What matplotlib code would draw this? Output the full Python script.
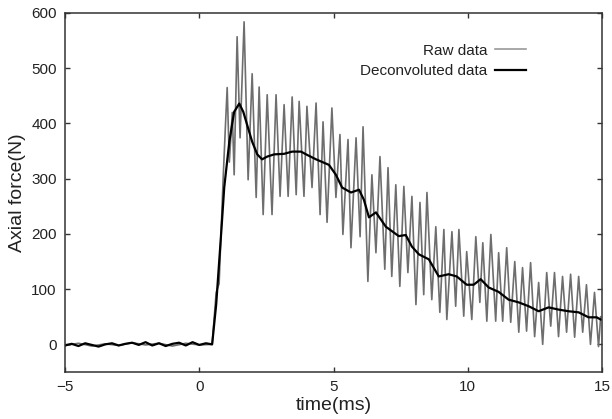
import matplotlib
matplotlib.use("Agg")
import matplotlib.pyplot as plt

plt.rcParams['font.family'] = ['Liberation Sans', 'DejaVu Sans']

# raw signal: alternating peaks / troughs (time in ms, force in N)
raw_t = [-5.0, -4.5, -4.0, -3.5, -3.0, -2.5, -2.0, -1.5, -1.0, -0.5, 0.0, 0.48,
         0.63, 0.74, 0.89, 0.97, 1.04, 1.12, 1.23, 1.30, 1.41, 1.52, 1.67, 1.82,
         1.97, 2.12, 2.23, 2.38, 2.53, 2.71, 2.86, 3.01, 3.16, 3.31, 3.46, 3.61,
         3.72, 3.90, 4.01, 4.20, 4.35, 4.50, 4.61, 4.76, 4.94, 5.09, 5.24, 5.35,
         5.54, 5.65, 5.84, 5.99, 6.10, 6.28, 6.43, 6.58, 6.73, 6.91, 7.03, 7.17,
         7.32, 7.47, 7.62, 7.77, 7.92, 8.07, 8.22, 8.36, 8.48, 8.66, 8.81, 8.96,
         9.11, 9.22, 9.41, 9.55, 9.67, 9.85, 9.96, 10.15, 10.30, 10.45, 10.56, 10.71,
         10.86, 11.04, 11.15, 11.30, 11.45, 11.60, 11.75, 11.90, 12.04, 12.19, 12.34, 12.49,
         12.64, 12.79, 12.94, 13.09, 13.23, 13.38, 13.53, 13.68, 13.83, 13.98, 14.13, 14.28,
         14.42, 14.57, 14.72, 14.87, 14.95]
raw_v = [-2, 2, -3, 1, -2, 3, -1, 2, -3, 2, -1, 0,
         94, 110, 300, 390, 465, 330, 420, 307, 557, 374, 584, 298,
         490, 266, 466, 235, 452, 235, 452, 268, 434, 268, 448, 271,
         440, 268, 431, 284, 437, 235, 403, 221, 428, 266, 380, 199,
         371, 175, 374, 195, 394, 114, 307, 166, 340, 136, 320, 123,
         289, 105, 286, 130, 268, 72, 257, 90, 275, 81, 213, 58,
         208, 45, 204, 69, 208, 51, 168, 45, 195, 76, 184, 42,
         199, 42, 166, 42, 175, 40, 150, 22, 139, 24, 148, 14,
         112, 0, 130, 33, 130, 14, 123, 22, 127, 13, 123, 22,
         108, 0, 94, -4, 50]

# deconvoluted signal
deconv_t = [-5.0, -4.75, -4.5, -4.25, -4.0, -3.75, -3.5, -3.25, -3.0, -2.75, -2.5, -2.25,
            -2.0, -1.75, -1.5, -1.25, -1.0, -0.75, -0.5, -0.25, 0.0, 0.25, 0.48,
            0.63, 0.82, 0.93, 1.12, 1.30, 1.49, 1.64, 1.78, 1.97, 2.16, 2.34, 2.53,
            2.79, 3.16, 3.46, 3.79, 3.98, 4.35, 4.83, 5.09, 5.32, 5.65, 5.95, 6.13,
            6.32, 6.58, 6.95, 7.43, 7.69, 7.92, 8.18, 8.55, 8.92, 9.29, 9.59, 9.96,
            10.22, 10.48, 10.78, 11.15, 11.52, 11.90, 12.27, 12.64, 13.01, 13.38, 13.75, 14.13,
            14.50, 14.80, 14.95]
deconv_v = [-2, 1, -3, 2, -1, -4, 0, 2, -2, 1, 3, -1,
            4, -2, 2, -3, 1, 3, -2, 4, -1, 2, 0,
            72, 204, 284, 367, 421, 436, 421, 398, 367, 344, 335, 340,
            344, 345, 349, 349, 344, 335, 325, 307, 284, 275, 280, 262,
            230, 239, 213, 196, 198, 177, 163, 154, 123, 127, 123, 108,
            108, 118, 103, 95, 81, 76, 69, 60, 67, 63, 60, 58,
            49, 49, 45]

fig = plt.figure(figsize=(6.12, 4.19), dpi=100)
ax = fig.add_axes([0.1062, 0.1122, 0.8775, 0.8568])

ax.plot(raw_t, raw_v, color='#6e6e6e', lw=1.2, label='Raw data')
ax.plot(deconv_t, deconv_v, color='black', lw=1.6, label='Deconvoluted data')

ax.set_xlim(-5, 15)
ax.set_ylim(-50, 600)
ax.set_xticks([-5, 0, 5, 10, 15])
ax.set_xticklabels(['\u22125', '0', '5', '10', '15'])
ax.set_yticks([0, 100, 200, 300, 400, 500, 600])

ax.tick_params(direction='in', length=3.5, width=1, top=True, right=True,
               labelsize=11, pad=6, color='#333333', labelcolor='#222222')
for s in ax.spines.values():
    s.set_color('#333333')
    s.set_linewidth(1.1)

ax.set_xlabel('time(ms)', fontsize=14, color='#222222', labelpad=2)
ax.set_ylabel('Axial force(N)', fontsize=14, color='#222222', labelpad=4)

leg = ax.legend(loc='upper right', bbox_to_anchor=(0.858, 0.915), frameon=False,
                markerfirst=False, fontsize=11, handlelength=2.0,
                handletextpad=0.5, labelspacing=0.45, borderpad=0, borderaxespad=0)
leg.get_lines()[0].set_color('#9a9a9a')
for t in leg.get_texts():
    t.set_color('#222222')

fig.savefig('out.png', dpi=100)
